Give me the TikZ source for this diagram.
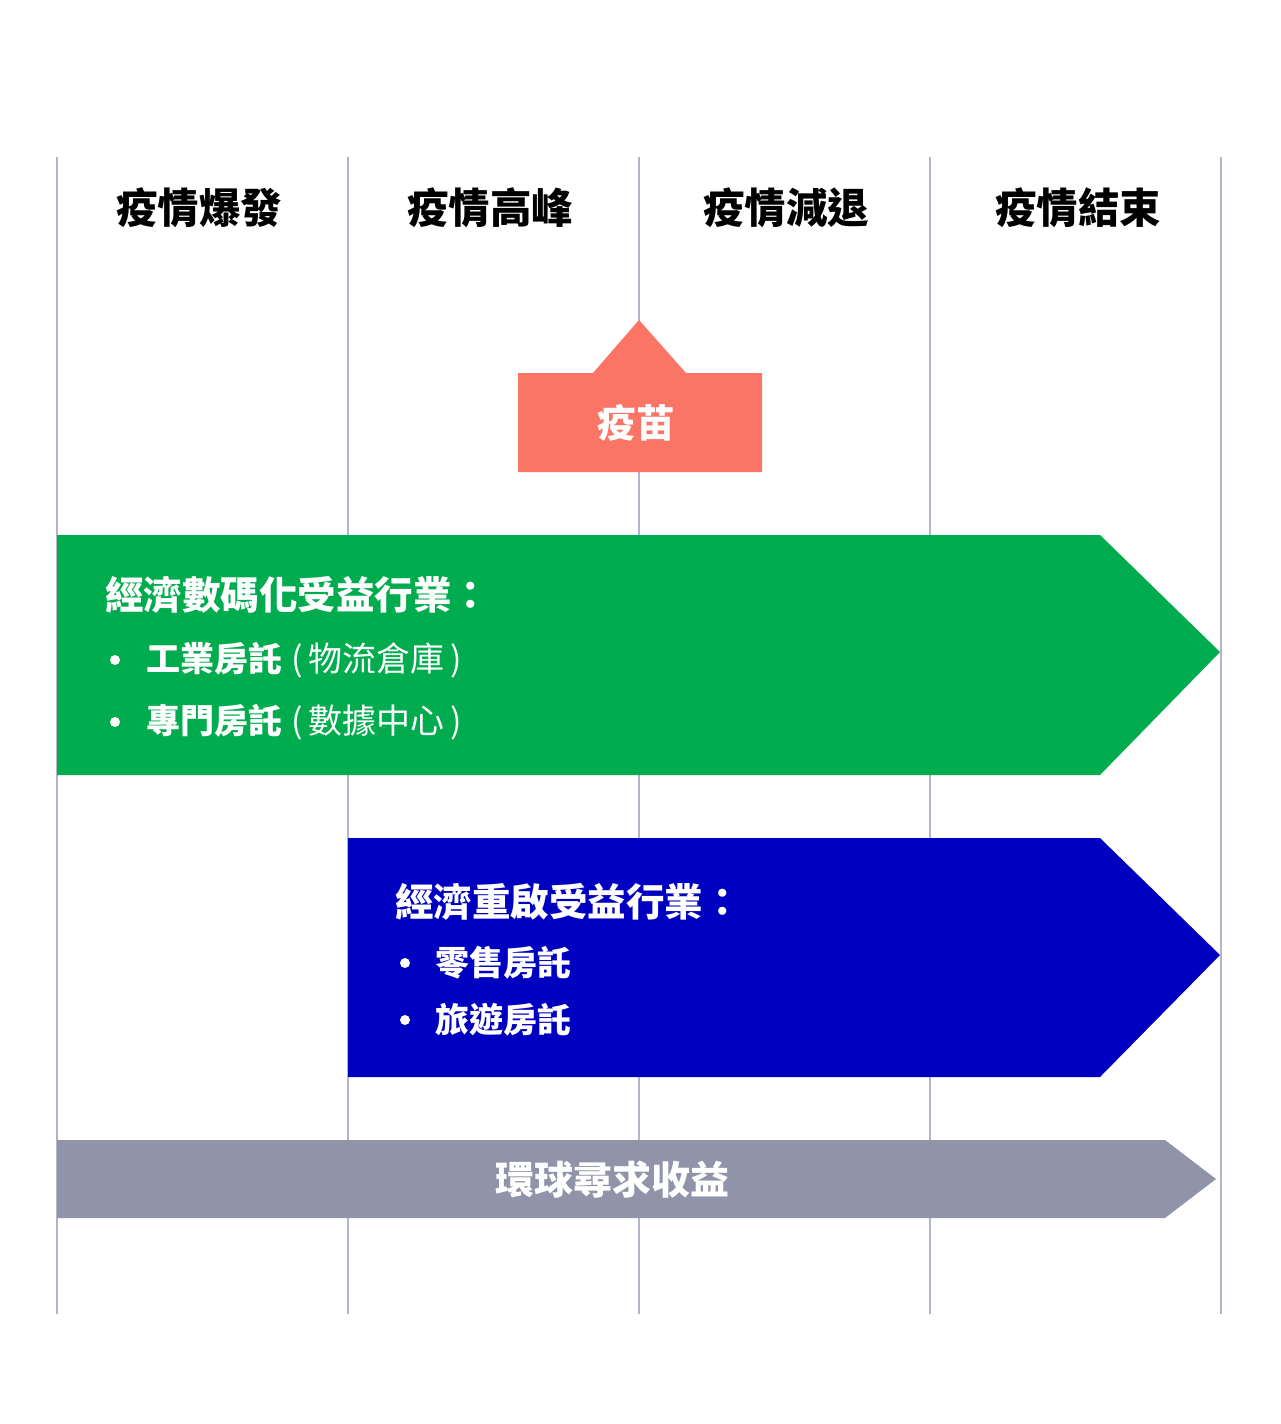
\documentclass[tikz,border=0pt]{standalone}
\usepackage{fontspec}
\newfontfamily\cjk{Noto Sans CJK TC}
\definecolor{gridc}{HTML}{B4B5C6}
\definecolor{vacc}{HTML}{FA7566}
\definecolor{greenc}{HTML}{00AC4E}
\definecolor{bluec}{HTML}{0000C0}
\definecolor{grayc}{HTML}{9194A9}
\tikzset{
  gridline/.style={draw=gridc, line width=1.5pt},
  hdr/.style={font=\cjk\bfseries\fontsize{41.5}{48}\selectfont, text=black, inner sep=0pt},
  ttl/.style={font=\cjk\bfseries\fontsize{38.5}{44}\selectfont, text=white, inner sep=0pt, anchor=west},
  itm/.style={font=\cjk\bfseries\fontsize{34}{40}\selectfont, text=white, inner sep=0pt, anchor=west},
  bul/.style={fill=white},
}
\begin{document}
\begin{tikzpicture}[x=1pt,y=-1pt]
\useasboundingbox (0,0) rectangle (1280,1424);
\fill[white] (0,0) rectangle (1280,1424);
% grid lines
\foreach \x [count=\i] in {57,348,639,930,1221} {
  \coordinate (t\i) at (\x,157);
  \coordinate (b\i) at (\x,1314);
  \draw[gridline] (t\i) -- (b\i);
}
% headers
\node[hdr] (h1) at (199,208) {疫情爆發};
\node[hdr] (h2) at (490,208) {疫情高峰};
\node[hdr] (h3) at (786,208) {疫情減退};
\node[hdr] (h4) at (1078,208) {疫情結束};
% vaccine
\fill[vacc] (518,373) -- (593,373) -- (639,320) -- (686,373) -- (762,373) -- (762,472) -- (518,472) -- cycle;
\node[font=\cjk\bfseries\fontsize{38.5}{46}\selectfont, text=white, inner sep=0pt] (vac) at (636,423) {疫苗};
% green arrow
\fill[greenc] (57,535) -- (1100,535) -- (1220,652) -- (1100,775) -- (57,775) -- cycle;
\node[ttl] (g0) at (105,595) {經濟數碼化受益行業：};
\fill[bul] (115,660) circle (5);
\fill[bul] (115,722) circle (5);
\node[itm] (g1) at (146,660) {工業房託\hspace{9pt}{\mdseries (\hspace{6pt}物流倉庫\hspace{6pt})}};
\node[itm] (g2) at (146,722) {專門房託\hspace{9pt}{\mdseries (\hspace{6pt}數據中心\hspace{6pt})}};
% blue arrow
\fill[bluec] (348,838) -- (1100,838) -- (1220,955) -- (1100,1077) -- (348,1077) -- cycle;
\node[ttl] (u0) at (395,902) {經濟重啟受益行業：};
\fill[bul] (405,963) circle (5);
\fill[bul] (405,1020) circle (5);
\node[itm] (u1) at (435,963) {零售房託};
\node[itm] (u2) at (435,1020) {旅遊房託};
% gray arrow
\fill[grayc] (57,1140) -- (1165,1140) -- (1216,1179) -- (1165,1218) -- (57,1218) -- cycle;
\node[font=\cjk\bfseries\fontsize{39}{46}\selectfont, text=white, inner sep=0pt] (gy) at (612,1180) {環球尋求收益};
\end{tikzpicture}
\end{document}
